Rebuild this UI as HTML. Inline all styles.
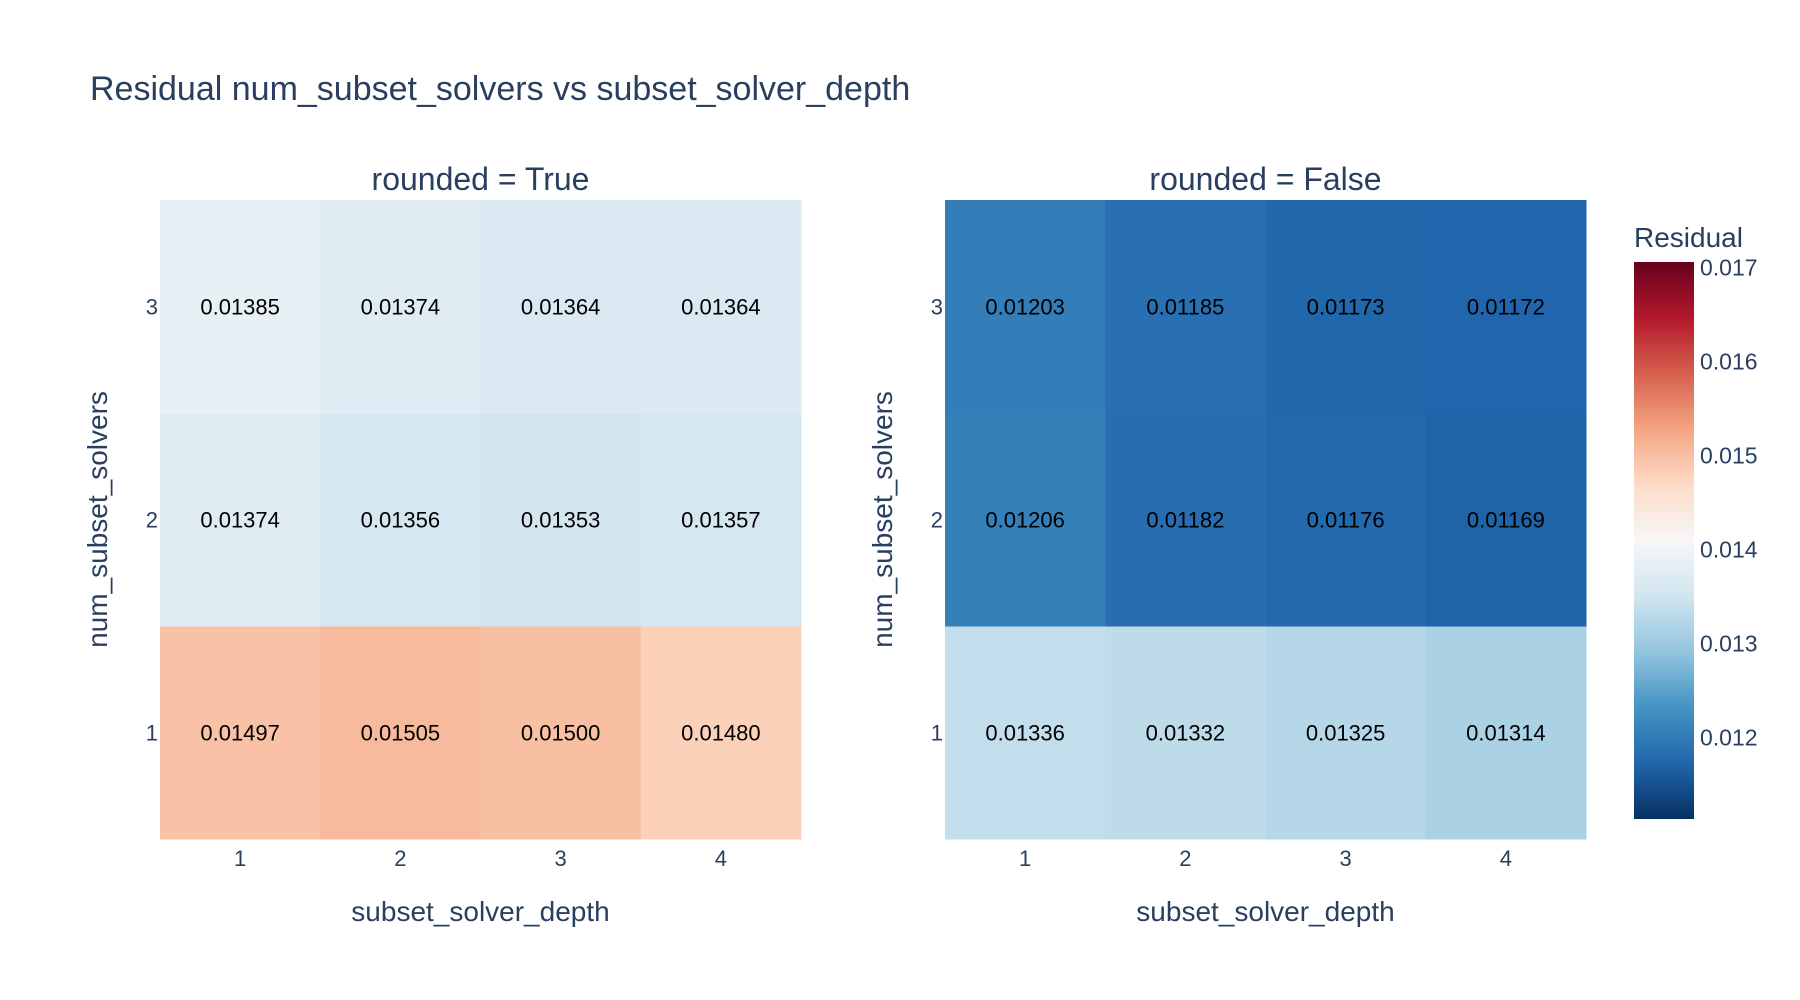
<!DOCTYPE html>
<html><head><meta charset="utf-8"><style>
body{margin:0;background:#fff;}
svg{display:block;font-family:"Liberation Sans",Arial,sans-serif;}
</style></head><body>
<svg id="chart" width="1800" height="1000" xmlns="http://www.w3.org/2000/svg">
<defs>
<linearGradient id="cbgrad" x1="0" y1="1" x2="0" y2="0"></linearGradient>
</defs>
<text x="90" y="100" font-size="34" fill="#2a3f5f">Residual num_subset_solvers vs subset_solver_depth</text>
<g id="plots"></g>
<g id="colorbar"></g>
</svg>
<script>
const xCategories = [1, 2, 3, 4];
const yCategories = [1, 2, 3];
const panelTitles = ["rounded = True", "rounded = False"];
const valuesTrue = [
  [0.01497, 0.01505, 0.01500, 0.01480],
  [0.01374, 0.01356, 0.01353, 0.01357],
  [0.01385, 0.01374, 0.01364, 0.01364]
];
const valuesFalse = [
  [0.01336, 0.01332, 0.01325, 0.01314],
  [0.01206, 0.01182, 0.01176, 0.01169],
  [0.01203, 0.01185, 0.01173, 0.01172]
];
const colorTicks = [0.012, 0.013, 0.014, 0.015, 0.016, 0.017];
const zMin = 0.01113, zMax = 0.01706;

const NS = "http://www.w3.org/2000/svg";
const stops = [[5,48,97],[33,102,172],[67,147,195],[146,197,222],[209,229,240],[247,247,247],[253,219,199],[244,165,130],[214,96,77],[178,24,43],[103,0,31]];
function color(v){
  let t = (v - zMin) / (zMax - zMin); t = Math.max(0, Math.min(1, t));
  const p = t * (stops.length - 1); const i = Math.min(Math.floor(p), stops.length - 2); const f = p - i;
  const c = stops[i].map((a, k) => Math.round(a + (stops[i+1][k] - a) * f));
  return `rgb(${c[0]},${c[1]},${c[2]})`;
}
function mk(tag, attrs, parent, text){
  const e = document.createElementNS(NS, tag);
  for (const k in attrs) e.setAttribute(k, attrs[k]);
  if (text !== undefined) e.textContent = text;
  parent.appendChild(e); return e;
}
const plotsG = document.getElementById('plots');
const panels = [{x0:160,x1:801,vals:valuesTrue},{x0:945,x1:1586,vals:valuesFalse}];
const y0 = 200, y1 = 839;
panels.forEach((p, pi) => {
  const g = mk('g', {}, plotsG);
  
  
  const cw = (p.x1 - p.x0) / xCategories.length, ch = (y1 - y0) / yCategories.length;
  const xPos = i => p.x0 + cw * i;
  const yPos = j => y1 - ch * (j + 1);
  yCategories.forEach((yc, j) => {
    xCategories.forEach((xc, i) => {
      const v = p.vals[j][i];
      const r = mk('rect', {x: xPos(i), y: yPos(j), width: cw + 0.5, height: ch + 0.5, fill: color(v)}, g);
      
      
      const t = mk('text', {x: xPos(i) + cw/2, y: yPos(j) + ch/2 + 8, 'text-anchor': 'middle', 'font-size': 22, fill: '#000'}, g, v.toFixed(5));
      
      
    });
  });
  xCategories.forEach((xc, i) => {
    const t = mk('text', {x: xPos(i) + cw/2, y: 866, 'text-anchor': 'middle', 'font-size': 22, fill: '#2a3f5f'}, g, String(xc));
    
    
  });
  yCategories.forEach((yc, j) => {
    const t = mk('text', {x: p.x0 - 2, y: yPos(j) + ch/2 + 8, 'text-anchor': 'end', 'font-size': 22, fill: '#2a3f5f'}, g, String(yc));
    
    
  });
  const xt = mk('text', {x: (p.x0 + p.x1)/2, y: 921, 'text-anchor': 'middle', 'font-size': 28, fill: '#2a3f5f'}, g, 'subset_solver_depth');
  
  
  const yx = p.x0 - 53, yy = (y0 + y1)/2;
  const yt = mk('text', {x: yx, y: yy, 'text-anchor': 'middle', 'font-size': 28, fill: '#2a3f5f', transform: `rotate(-90 ${yx} ${yy})`}, g, 'num_subset_solvers');
  
  
  const st = mk('text', {x: (p.x0 + p.x1)/2, y: 190, 'text-anchor': 'middle', 'font-size': 32, fill: '#2a3f5f'}, g, panelTitles[pi]);
  
  
});
// colorbar
const grad = document.getElementById('cbgrad');
stops.forEach((s, i) => {
  mk('stop', {offset: (i/(stops.length-1)).toFixed(3), 'stop-color': `rgb(${s[0]},${s[1]},${s[2]})`}, grad);
});
const cb = document.getElementById('colorbar');


const cbTop = 262, cbBot = 819, cbX = 1634, cbW = 60;
const cbY = v => cbBot - (v - zMin) / (zMax - zMin) * (cbBot - cbTop);
const cbr = mk('rect', {x: cbX, y: cbTop, width: cbW, height: cbBot - cbTop, fill: 'url(#cbgrad)'}, cb);


colorTicks.forEach(v => {
  const t = mk('text', {x: cbX + cbW + 6, y: cbY(v) + 8, 'font-size': 23, fill: '#2a3f5f'}, cb, v.toFixed(3));
  
  
});
const cbt = mk('text', {x: 1634, y: 247, 'font-size': 28, fill: '#2a3f5f'}, cb, 'Residual');


</script>
</body></html>
